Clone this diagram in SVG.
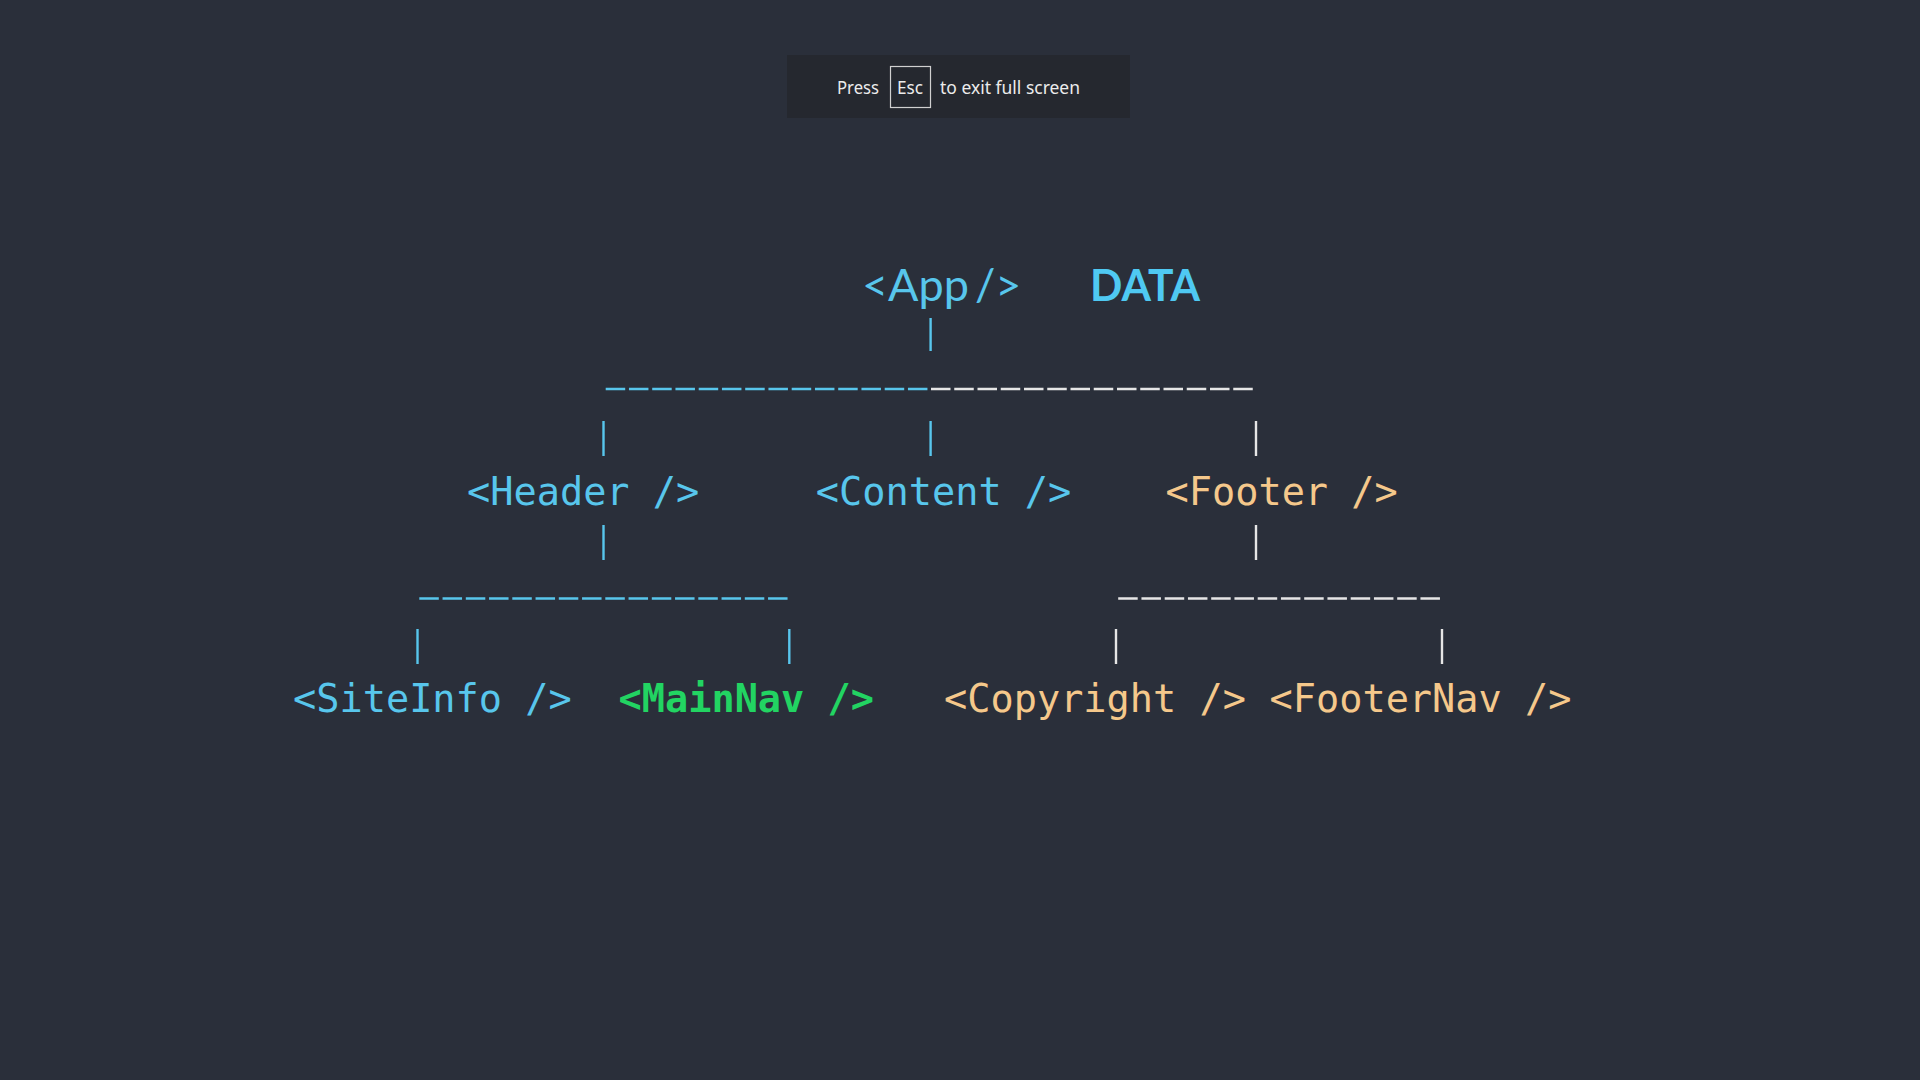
<svg xmlns="http://www.w3.org/2000/svg" width="1920" height="1080" viewBox="0 0 1920 1080">
  <style>
    .mono { font-family: "DejaVu Sans Mono", "Liberation Mono", monospace; font-size: 38.6px; }
    .blue { fill: #58c6ec; }
    .peach { fill: #f5c88b; }
    .green { fill: #22d462; font-weight: bold; }
    .ui { font-family: "Noto Sans", "Open Sans", "Liberation Sans", sans-serif; font-size: 18.5px; fill: #ececec; }
    .cb { stroke: #58c6ec; stroke-width: 2.4; fill: none; }
    .cw { stroke: #e6e6e6; stroke-width: 2.4; fill: none; }
    .dash { stroke-dasharray: 19.5 3.75; stroke-width: 2.6; }
  </style>
  <rect x="0" y="0" width="1920" height="1080" fill="#2a2f3a"/>

  <g id="fullscreen-hint">
    <rect x="787" y="55" width="343" height="63" fill="#25282f"/>
    <text class="ui" x="837" y="94" textLength="42" lengthAdjust="spacingAndGlyphs">Press</text>
    <rect x="890.5" y="66.5" width="40" height="41" fill="none" stroke="#d0d0d0" stroke-width="1.2"/>
    <text class="ui" x="897" y="94" textLength="26" lengthAdjust="spacingAndGlyphs">Esc</text>
    <text class="ui" x="940" y="94" textLength="140" lengthAdjust="spacingAndGlyphs">to exit full screen</text>
  </g>

  <g id="connectors">
    <line class="cb" x1="930.6" y1="318" x2="930.6" y2="351"/>
    <line class="cb dash" x1="605.7" y1="389" x2="927.5" y2="389"/>
    <line class="cw dash" x1="931" y1="389" x2="1253" y2="389"/>
    <line class="cb" x1="603.5" y1="421" x2="603.5" y2="456"/>
    <line class="cb" x1="930.6" y1="421" x2="930.6" y2="456"/>
    <line class="cw" x1="1256" y1="421" x2="1256" y2="456"/>
    <line class="cb" x1="603.5" y1="525" x2="603.5" y2="560"/>
    <line class="cw" x1="1256" y1="525" x2="1256" y2="560"/>
    <line class="cb dash" x1="419.3" y1="598.5" x2="788.3" y2="598.5"/>
    <line class="cw dash" x1="1118.2" y1="598.5" x2="1440.2" y2="598.5"/>
    <line class="cb" x1="417.5" y1="629" x2="417.5" y2="664"/>
    <line class="cb" x1="789.3" y1="629" x2="789.3" y2="664"/>
    <line class="cw" x1="1116" y1="629" x2="1116" y2="664"/>
    <line class="cw" x1="1442" y1="629" x2="1442" y2="664"/>
  </g>

  <g id="node-app">
    <text x="862" y="301" font-family="Lato, 'Open Sans', 'Liberation Sans', sans-serif" font-size="45" font-weight="400" fill="#58c6ec"><tspan>&lt;App</tspan><tspan x="975">/&gt;</tspan></text>
  </g>
  <g id="node-data">
    <text x="1090" y="301" font-family="Lato, 'Liberation Sans', sans-serif" font-size="43" font-weight="bold" fill="#4fc9f2" textLength="110" lengthAdjust="spacingAndGlyphs">DATA</text>
  </g>

  <g id="node-header"><text class="mono blue" x="467" y="505">&lt;Header /&gt;</text></g>
  <g id="node-content"><text class="mono blue" x="815.8" y="505">&lt;Content /&gt;</text></g>
  <g id="node-footer"><text class="mono peach" x="1165.5" y="505">&lt;Footer /&gt;</text></g>

  <g id="node-siteinfo"><text class="mono blue" x="293" y="712">&lt;SiteInfo /&gt;</text></g>
  <g id="node-mainnav"><text class="mono green" x="618.5" y="712">&lt;MainNav /&gt;</text></g>
  <g id="node-copyright"><text class="mono peach" x="944" y="712">&lt;Copyright /&gt;</text></g>
  <g id="node-footernav"><text class="mono peach" x="1269.5" y="712">&lt;FooterNav /&gt;</text></g>
</svg>
